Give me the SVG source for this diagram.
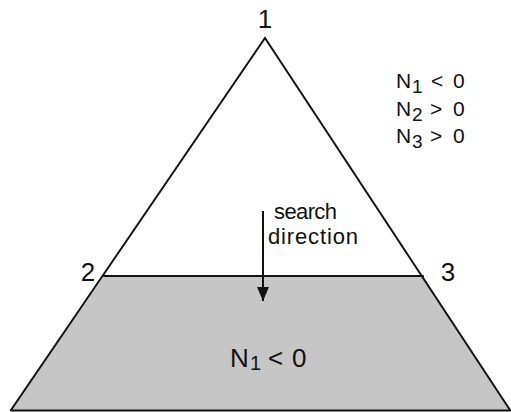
<svg xmlns="http://www.w3.org/2000/svg" width="511" height="412" viewBox="0 0 511 412">
<style>
text{font-family:"Liberation Sans",Arial,sans-serif;fill:#111}
.edge{stroke:#111;stroke-width:2;fill:none;stroke-linecap:round}
.lbl{font-size:21px}
.big{font-size:26px}
</style>
<defs>
<marker id="ah" viewBox="0 0 14 12" refX="14" refY="6" markerWidth="14" markerHeight="12" markerUnits="userSpaceOnUse" orient="auto">
<path d="M0,0 L14,6 L0,12 Z" fill="#111"/>
</marker>
</defs>
<rect width="511" height="412" fill="#fff"/>
<g id="region">
<polygon points="104,276 423,276 510,410 11,410" fill="#c6c6c6"/>
</g>
<g id="triangle">
<path class="edge" d="M11,410 L265,38 L510,410"/>
<path class="edge" d="M104,276 L423,276"/>
<path class="edge" d="M11,410.5 L510,410.5" stroke-width="2.5"/>
</g>
<g id="vertex1"><text class="big" x="265" y="28" text-anchor="middle">1</text></g>
<g id="vertex2"><text class="big" x="88" y="281" text-anchor="middle">2</text></g>
<g id="vertex3"><text class="big" x="448" y="281" text-anchor="middle">3</text></g>
<g id="conditions" class="lbl">
<text y="88"><tspan x="396">N</tspan><tspan x="412" y="93" font-size="19">1</tspan><tspan x="431" y="88">&lt;</tspan><tspan x="453">0</tspan></text>
<text y="116"><tspan x="396">N</tspan><tspan x="412" y="121" font-size="19">2</tspan><tspan x="430" y="116">&gt;</tspan><tspan x="453">0</tspan></text>
<text y="143"><tspan x="396">N</tspan><tspan x="412" y="148" font-size="19">3</tspan><tspan x="430" y="143">&gt;</tspan><tspan x="453">0</tspan></text>
</g>
<g id="search-label">
<text x="274" y="219" font-size="22" textLength="63">search</text>
<text x="268" y="244" font-size="22" textLength="90">direction</text>
</g>
<g id="connectors">
<line x1="263" y1="211" x2="263" y2="301" stroke="#111" stroke-width="2" marker-end="url(#ah)"/>
</g>
<g id="region-label">
<text y="367" font-size="26"><tspan x="230">N</tspan><tspan x="250" y="370" font-size="20">1</tspan><tspan x="268" y="367">&lt;</tspan><tspan x="292">0</tspan></text>
</g>
</svg>
